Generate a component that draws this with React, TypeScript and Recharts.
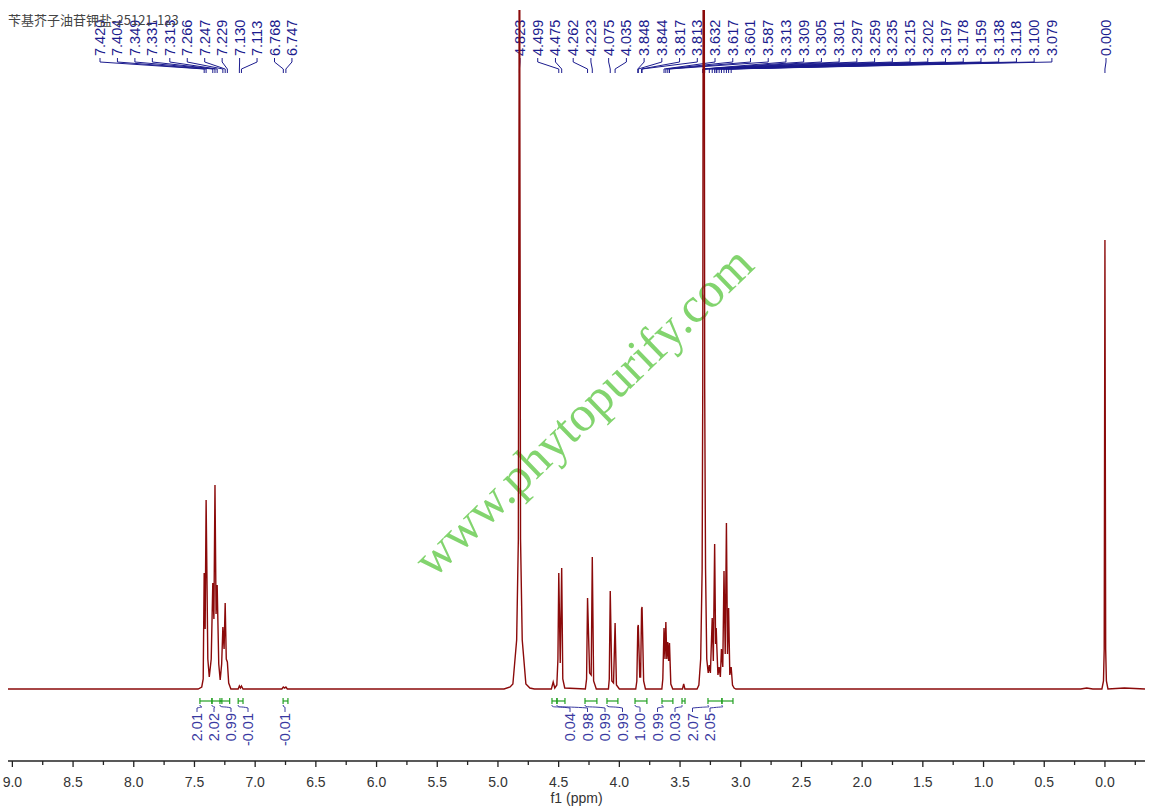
import React from "react";
import {
  LineChart,
  Line,
  XAxis,
  YAxis,
  ReferenceLine,
  ReferenceArea,
} from "recharts";

// 1H NMR trace: [ppm, intensity above baseline]
const spectrumTrace: [number, number][] = [
  [9.04, 0], [7.47, 0], [7.44, 2], [7.428, 10], [7.42, 116], [7.412, 60],
  [7.404, 189], [7.39, 30], [7.378, 12], [7.362, 30], [7.349, 106], [7.34, 70],
  [7.331, 204], [7.322, 75], [7.313, 104], [7.3, 25], [7.288, 9], [7.276, 25],
  [7.266, 62], [7.256, 40], [7.247, 86], [7.238, 30], [7.229, 27], [7.218, 6],
  [7.2, 0], [7.14, 0], [7.13, 3], [7.121, 1], [7.113, 3], [7.1, 0],
  [6.78, 0], [6.768, 2], [6.757, 1], [6.747, 2], [6.735, 0],
  [4.95, 0], [4.9, 2], [4.877, 5], [4.846, 49], [4.832, 150], [4.826, 600],
  [4.823, 3000], [4.82, 600], [4.814, 150], [4.8, 49], [4.77, 5], [4.737, 1],
  [4.7, 0],
  [4.56, 0], [4.545, 7], [4.532, 1], [4.515, 4], [4.506, 30], [4.499, 116],
  [4.487, 26], [4.475, 121], [4.466, 10], [4.45, 1],
  [4.28, 0], [4.27, 10], [4.262, 91], [4.245, 16], [4.232, 14], [4.223, 132],
  [4.212, 8], [4.19, 0],
  [4.09, 0], [4.083, 10], [4.075, 98], [4.062, 8], [4.048, 6], [4.035, 66],
  [4.024, 4], [4.0, 0],
  [3.865, 0], [3.856, 8], [3.848, 62], [3.844, 64], [3.832, 12], [3.825, 12],
  [3.817, 80], [3.813, 82], [3.8, 8], [3.785, 0],
  [3.65, 0], [3.642, 10], [3.632, 61], [3.624, 30], [3.617, 67], [3.609, 30],
  [3.601, 47], [3.594, 28], [3.587, 46], [3.576, 5], [3.56, 0],
  [3.48, 0], [3.47, 5], [3.46, 0],
  [3.36, 0], [3.345, 4], [3.33, 30], [3.318, 120], [3.313, 300], [3.308, 900],
  [3.305, 3000], [3.302, 900], [3.297, 300], [3.29, 120], [3.28, 30],
  [3.268, 16], [3.259, 24], [3.25, 16], [3.235, 71], [3.226, 28], [3.215, 145],
  [3.207, 45], [3.202, 61], [3.197, 42], [3.188, 14], [3.178, 22], [3.168, 12],
  [3.159, 40], [3.148, 22], [3.138, 118], [3.128, 35], [3.118, 166], [3.109, 35],
  [3.1, 81], [3.09, 14], [3.079, 22], [3.068, 4], [3.055, 1], [3.04, 0],
  [0.2, 0], [0.15, 1], [0.1, 0], [0.025, 0], [0.012, 8], [0.006, 40],
  [0.0, 449], [-0.006, 40], [-0.012, 8], [-0.025, 0], [-0.16, 1], [-0.33, 0],
];

const peakLabels = [
  "7.420", "7.404", "7.349", "7.331", "7.313", "7.266", "7.247", "7.229",
  "7.130", "7.113", "6.768", "6.747",
  "4.823", "4.499", "4.475", "4.262", "4.223", "4.075", "4.035", "3.848",
  "3.844", "3.817", "3.813", "3.632", "3.617", "3.601", "3.587", "3.313",
  "3.309", "3.305", "3.301", "3.297", "3.259", "3.235", "3.215", "3.202",
  "3.197", "3.178", "3.159", "3.138", "3.118", "3.100", "3.079",
  "0.000",
];

const integralStart = [7.455, 7.356, 7.29, 7.14, 6.77, 4.555, 4.514, 4.283, 4.102, 3.871, 3.649, 3.484, 3.27, 3.155];
const integralEnd = [7.356, 7.274, 7.21, 7.1, 6.73, 4.514, 4.448, 4.185, 4.012, 3.773, 3.559, 3.459, 3.155, 3.064];
const integralValues = ["2.01", "2.02", "0.99", "-0.01", "-0.01", "0.04", "0.98", "0.99", "0.99", "1.00", "0.99", "0.03", "2.07", "2.05"];

const axisTicks = [
  9, 8.75, 8.5, 8.25, 8, 7.75, 7.5, 7.25, 7, 6.75, 6.5, 6.25, 6, 5.75, 5.5,
  5.25, 5, 4.75, 4.5, 4.25, 4, 3.75, 3.5, 3.25, 3, 2.75, 2.5, 2.25, 2, 1.75,
  1.5, 1.25, 1, 0.75, 0.5, 0.25, 0, -0.25,
];

const title = "苄基芥子油苷钾盐-25121-123";

// layout of the label columns (pixels)
const peakSlotGroups = [
  { start: 100, step: 17.45, count: 12 },
  { start: 520, step: 17.73, count: 31 },
  { start: 1106, step: 0, count: 1 },
];
const integralSlots = [197, 214, 231, 248, 285, 570, 587.5, 605, 622.5, 640, 657.5, 675, 692.5, 710];

const peakSlots: number[] = [];
peakSlotGroups.forEach((g) => {
  for (let i = 0; i < g.count; i++) peakSlots.push(g.start + g.step * i);
});

const chartData = spectrumTrace.map(([ppm, intensity]) => ({ ppm, intensity }));

const RED = "#8b0a0a";
const LABEL_BLUE = "#1c1c8e";
const INT_BLUE = "#3838a0";
const GREEN = "#22a022";
const FONT = "'Liberation Sans', Arial, sans-serif";

function PeakTag({ viewBox, tagText, slotX }: any) {
  if (!viewBox) return null;
  const px = viewBox.x;
  const textBottom = 56;
  return (
    <g>
      <text
        x={slotX}
        y={textBottom}
        transform={`rotate(-90 ${slotX} ${textBottom})`}
        fontSize={14.5}
        fontFamily={FONT}
        fill={LABEL_BLUE}
        dominantBaseline="central"
      >
        {tagText}
      </text>
      <polyline
        points={`${slotX},58 ${slotX},62 ${px},69 ${px},73`}
        fill="none"
        stroke={LABEL_BLUE}
        strokeWidth={1}
      />
    </g>
  );
}

function IntegralTag({ viewBox, tagText, slotX }: any) {
  if (!viewBox) return null;
  const { x, y, width, height } = viewBox;
  const x2 = x + width;
  const cy = y + height / 2;
  const yb = y + height;
  const mid = x + width / 2;
  const textTop = 713;
  return (
    <g>
      <line x1={x} x2={x2} y1={cy} y2={cy} stroke={GREEN} strokeWidth={1.2} />
      <line x1={x} x2={x} y1={y} y2={yb} stroke={GREEN} strokeWidth={1.2} />
      <line x1={x2} x2={x2} y1={y} y2={yb} stroke={GREEN} strokeWidth={1.2} />
      <path
        d={`M${x},${yb + 1} C${x},${yb + 4} ${mid},${yb + 2} ${slotX},${yb + 4} L${slotX},${yb + 8}`}
        fill="none"
        stroke={INT_BLUE}
        strokeWidth={1}
      />
      <text
        x={slotX}
        y={textTop}
        transform={`rotate(-90 ${slotX} ${textTop})`}
        fontSize={14.5}
        fontFamily={FONT}
        fill={INT_BLUE}
        textAnchor="end"
        dominantBaseline="central"
      >
        {tagText}
      </text>
    </g>
  );
}

function AxisTick({ x, y, payload }: any) {
  const v = payload.value;
  const major = Math.abs(v * 2 - Math.round(v * 2)) < 1e-6;
  return (
    <g>
      <line x1={x} x2={x} y1={y} y2={y + (major ? 6 : 4)} stroke="#222" strokeWidth={1.3} />
      {major && (
        <text x={x} y={y + 26} textAnchor="middle" fontSize={14} fontFamily={FONT} fill="#333">
          {v.toFixed(1)}
        </text>
      )}
    </g>
  );
}

export default function App() {
  return (
    <div style={{ position: "absolute", left: 0, top: 0, width: 1154, height: 808, background: "#fff" }}>
      <svg width={1154} height={808} style={{ position: "absolute", left: 0, top: 0 }}>
        <text
          x={583}
          y={411}
          textAnchor="middle"
          dominantBaseline="central"
          transform="rotate(-44 583 411)"
          fontFamily="'Liberation Serif', 'Times New Roman', serif"
          fontSize={50}
          fill="#82d46e"
        >
          www.phytopurify.com
        </text>
      </svg>
      <div style={{ position: "absolute", left: 0, top: 0 }}>
        <LineChart
          width={1154}
          height={808}
          data={chartData}
          margin={{ top: 10, right: 9, bottom: 0, left: 8 }}
        >
          <XAxis
            dataKey="ppm"
            type="number"
            domain={[-0.33, 9.036]}
            reversed
            allowDataOverflow
            ticks={axisTicks}
            interval={0}
            tickSize={0}
            tickMargin={0}
            tickLine={false}
            tick={<AxisTick />}
            height={47}
            axisLine={{ stroke: "#222", strokeWidth: 1.5 }}
            label={{
              value: "f1 (ppm)",
              position: "insideBottom",
              offset: 5,
              fontSize: 14,
              fontFamily: FONT,
              fill: "#333",
            }}
          />
          <YAxis hide type="number" domain={[-72, 679]} allowDataOverflow />
          {peakLabels.map((t, i) => (
            <ReferenceLine
              key={`pk-${i}`}
              x={parseFloat(t)}
              stroke="none"
              ifOverflow="visible"
              label={<PeakTag tagText={t} slotX={peakSlots[i]} />}
            />
          ))}
          {integralValues.map((v, i) => (
            <ReferenceArea
              key={`int-${i}`}
              x1={integralStart[i]}
              x2={integralEnd[i]}
              y1={-15}
              y2={-9}
              fill="none"
              stroke="none"
              ifOverflow="visible"
              label={<IntegralTag tagText={v} slotX={integralSlots[i]} />}
            />
          ))}
          <Line
            dataKey="intensity"
            type="linear"
            stroke={RED}
            strokeWidth={1.4}
            dot={false}
            activeDot={false}
            isAnimationActive={false}
          />
        </LineChart>
      </div>
      <svg width={1154} height={40} style={{ position: "absolute", left: 0, top: 0, pointerEvents: "none" }}>
        <text x={8} y={25} fontSize={13} fontFamily="'Noto Sans CJK SC', sans-serif" fill="#444">
          {title}
        </text>
      </svg>
    </div>
  );
}
